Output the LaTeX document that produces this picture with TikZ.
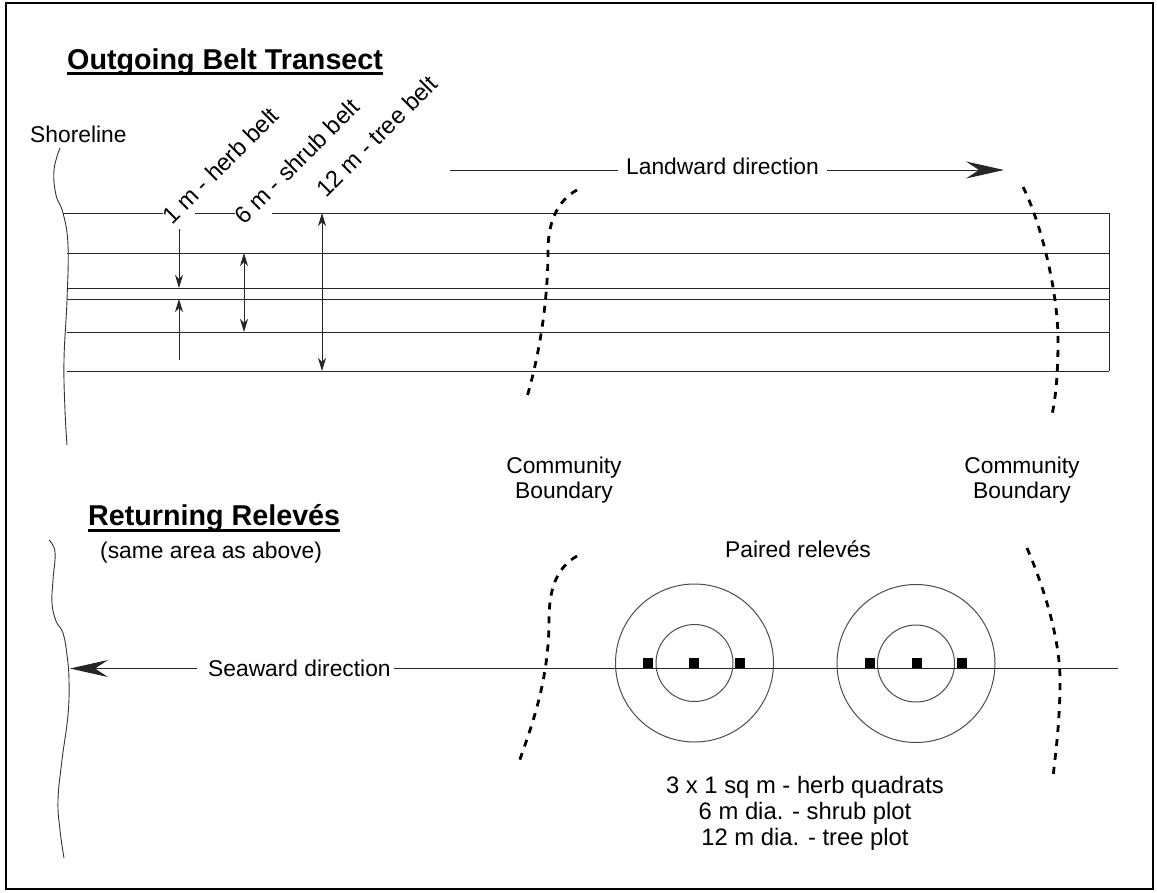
\documentclass[tikz,border=0pt]{standalone}
\usepackage{fontspec}
\setmainfont{Liberation Sans}
\usetikzlibrary{arrows.meta,calc}
\begin{document}
\begin{tikzpicture}[x=1pt,y=-1pt,
  txt/.style={inner sep=0pt, font=\fontsize{22.8}{25}\selectfont},
  lbl/.style={inner sep=0pt, font=\fontsize{23.8}{26}\selectfont},
  ttl/.style={inner sep=0pt, font=\fontsize{28.7}{32}\selectfont\bfseries},
  belt/.style={line width=1pt, draw=black!85},
  ring/.style={line width=1pt, draw=black!70},
  bound/.style={line width=2.8pt, dash pattern=on 7pt off 7pt},
  shore/.style={line width=0.9pt, draw=black!80},
  dimtip/.style={-{Stealth[length=13pt,width=8pt,inset=4pt]}},
  dimboth/.style={{Stealth[length=13pt,width=8pt,inset=4pt]}-{Stealth[length=13pt,width=8pt,inset=4pt]}},
  bigtip/.style={-{Stealth[length=38pt,width=17pt,inset=13pt]}},
  quad/.style={fill=black}]
\useasboundingbox (0,0) rectangle (1157,892);
\draw[line width=2.5pt] (6,3) rectangle (1153,889);

% ---------- outgoing belt transect ----------
\node[ttl, anchor=base west] (ttlA) at (67,69) {Outgoing Belt Transect};
\draw[line width=2.4pt] ($(ttlA.base west)+(0,4.5)$) -- ($(ttlA.base east)+(0,4.5)$);
\node[txt, anchor=base west] (shoreA) at (30,142) {Shoreline};

% shoreline
\draw[shore] plot[smooth, tension=0.7] coordinates {(60,148) (54,170) (56,195) (63,213) (68,245) (67,300) (64,360) (65,410) (67,445)};

% belt outline
\draw[belt] (63,213) -- (163,213);
\draw[belt] (195,213) -- (235,213);
\draw[belt] (272,213) -- (1109,213) -- (1109,371);
\foreach \yy in {253,288,299,332,371}
  \draw[belt] (67,\yy) -- (1109,\yy);

% belt labels
\node[lbl, anchor=base west, rotate=45] (herbL) at (172,226) {1 m - herb belt};
\node[lbl, anchor=base west, rotate=45] (shrubL) at (244,226) {6 m - shrub belt};
\node[lbl, anchor=base west, rotate=45] (treeL) at (326,199) {12 m - tree belt};

% belt widths
\coordinate (hA) at (179,229); \coordinate (hB) at (179,288);
\coordinate (hC) at (179,360); \coordinate (hD) at (179,299);
\coordinate (sA) at (244,253); \coordinate (sB) at (244,332);
\coordinate (tA) at (322,213); \coordinate (tB) at (322,371);
\draw[belt, dimtip] (hA) -- (hB);
\draw[belt, dimtip] (hC) -- (hD);
\draw[belt, dimboth] (sA) -- (sB);
\draw[belt, dimboth] (tA) -- (tB);

% landward direction
\node[txt, anchor=base west] (landL) at (626,174) {Landward direction};
\coordinate (landS) at (450,170);
\coordinate (landE) at (1004,170);
\draw[belt] (landS) -- ($(landL.west |- landS)+(-8,0)$);
\draw[belt, bigtip] ($(landL.east |- landE)+(8,0)$) -- (landE);

% community boundaries (upper)
\draw[bound] (577,190) .. controls (558,200) and (548,222) .. (548,250) .. controls (548,300) and (540,352) .. (527,397);
\draw[bound] (1023,187) .. controls (1040,220) and (1058,290) .. (1058,340) .. controls (1058,380) and (1055,400) .. (1052,415);

\node[txt, anchor=base] (comA1) at (564,473) {Community};
\node[txt, anchor=base] (comA2) at (564,498) {Boundary};
\node[txt, anchor=base] (comB1) at (1022,473) {Community};
\node[txt, anchor=base] (comB2) at (1022,498) {Boundary};

% ---------- returning releves ----------
\node[ttl, anchor=base west] (ttlB) at (88,525) {Returning Relevés};
\draw[line width=2.4pt] ($(ttlB.base west)+(0,5.5)$) -- ($(ttlB.base east)+(0,5.5)$);
\node[txt, anchor=base west] (sameL) at (100,558) {(same area as above)};

\draw[shore] plot[smooth, tension=0.7] coordinates {(49,540) (55,552) (53,580) (52,603) (56,621) (63,633) (67,655) (69,680) (68,715) (62,760) (58,800) (60,830) (64,858)};

% seaward direction
\node[txt, anchor=base west] (seaL) at (208,676) {Seaward direction};
\coordinate (seaE) at (70,668.5);
\coordinate (seaR) at (1118,668.5);
\draw[belt, bigtip] ($(seaL.west |- seaE)+(-11,0)$) -- (seaE);
\draw[belt] ($(seaL.east |- seaR)+(3,0)$) -- (seaR);

% community boundaries (lower)
\draw[bound] (577,556) .. controls (556,568) and (549,590) .. (549,620) .. controls (549,680) and (532,725) .. (519,762);
\draw[bound] (1027,548) .. controls (1045,590) and (1060,640) .. (1060,680) .. controls (1060,720) and (1056,750) .. (1053,777);

% paired releves
\node[txt, anchor=base west] (pairL) at (725,557) {Paired relevés};
\coordinate (relA) at (694.5,663);
\coordinate (relB) at (916,663.5);
\foreach \c in {relA, relB} {
  \draw[ring] (\c) circle[radius=79pt];
  \draw[ring] (\c) circle[radius=38.5pt];
}
\foreach \xx in {648,694,740,870,916.5,961.5}
  \fill[quad] (\xx-5,657.5) rectangle (\xx+5,668);

\node[lbl, anchor=base] (legA) at (805,793) {3 x 1 sq m - herb quadrats};
\node[lbl, anchor=base] (legB) at (805,819) {6 m dia. - shrub plot};
\node[lbl, anchor=base] (legC) at (805,845) {12 m dia. - tree plot};
\end{tikzpicture}
\end{document}
